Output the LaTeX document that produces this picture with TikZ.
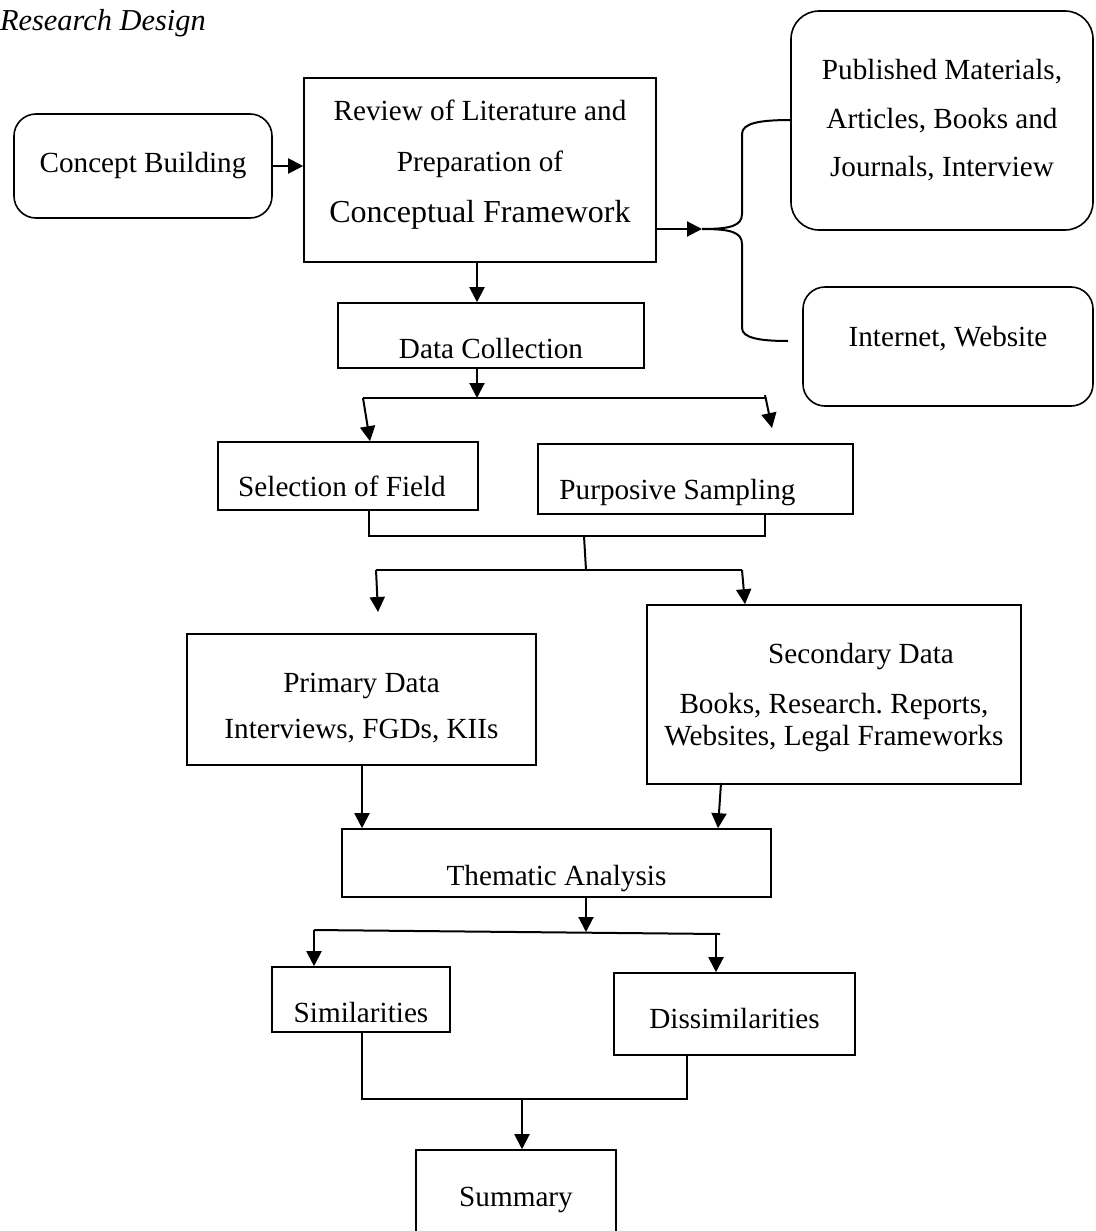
\documentclass[tikz,border=0pt]{standalone}
\usepackage{fontspec}
\setmainfont{Liberation Serif}
\usetikzlibrary{arrows.meta, positioning}
\newcommand{\nudge}[3]{\raisebox{#2}[\height][\depth]{\hspace*{#1}#3\hspace*{-#1}}}

\begin{document}
\begin{tikzpicture}[
  x=0.5pt, y=-0.5pt,
  box/.style={draw, line width=0.8pt, inner sep=0pt, align=center, font=\fontsize{14.6}{17}\selectfont},
  rbox/.style={box, rounded corners=#1},
  link/.style={line width=1pt},
  arr/.style={link, -{Triangle[length=7.5pt, width=7.5pt]}}
]
\useasboundingbox (0,0) rectangle (1096,1231);
\clip (0,0) rectangle (1096,1231);

\node[anchor=base west, font=\fontsize{15.2}{18}\selectfont\itshape] (title) at (-7,31) {Research Design};

% sources
\node[rbox=11pt, minimum width=129pt, minimum height=52pt] (concept) at (143,166) {Concept Building};
\node[box, minimum width=176pt, minimum height=92pt, font=\fontsize{14.6}{25.5}\selectfont, text depth=8.5pt] (review) at (480,170)
  {Review of Literature and\\Preparation of\\{\fontsize{16}{25.5}\selectfont Conceptual Framework}};
\node[rbox=14pt, minimum width=151pt, minimum height=109.5pt, font=\fontsize{14.6}{24.25}\selectfont] (published) at (942,120.5)
  {Published Materials,\\Articles, Books and\\Journals, Interview};
\node[rbox=11pt, minimum width=145pt, minimum height=59.5pt] (internet) at (948,346.5) {\nudge{0pt}{4pt}{Internet, Website}};

% collection
\node[box, minimum width=153pt, minimum height=32.5pt] (datacoll) at (491,335.5) {\nudge{0pt}{-6.5pt}{Data Collection}};
\node[box, minimum width=130pt, minimum height=34pt] (field) at (348,476) {\nudge{-3pt}{-5pt}{Selection of Field}};
\node[box, minimum width=157.5pt, minimum height=35pt] (sampling) at (695.5,479) {\nudge{-9pt}{-7pt}{Purposive Sampling}};

% data
\node[box, minimum width=174.5pt, minimum height=65.5pt, font=\fontsize{14.6}{23}\selectfont] (primary) at (361.5,699.5)
  {\rule{0pt}{18pt}Primary Data\\Interviews, FGDs, KIIs};
\node[box, minimum width=187pt, minimum height=89.5pt, font=\fontsize{14.6}{16}\selectfont] (secondary) at (834,694.5)
  {\rule{0pt}{13pt}\nudge{13.5pt}{0pt}{Secondary Data}\\[9pt]Books, Research.\ Reports,\\Websites, Legal Frameworks};

% analysis
\node[box, minimum width=214.5pt, minimum height=34pt] (thematic) at (556.5,863) {\nudge{0pt}{-8pt}{Thematic Analysis}};
\node[box, minimum width=89pt, minimum height=32.5pt] (similar) at (361,999.5) {\nudge{0pt}{-6.5pt}{Similarities}};
\node[box, minimum width=120.5pt, minimum height=41pt] (dissimilar) at (734.5,1014) {\nudge{0pt}{-2pt}{Dissimilarities}};
\node[box, minimum width=100pt, minimum height=46pt] (summary) at (516,1196) {\nudge{0pt}{-2pt}{Summary}};

% junctions
\coordinate (fork) at (702,229);
\coordinate (dcx) at (477,398);
\coordinate (dcl) at (363,398);
\coordinate (dcr) at (765,398);
\coordinate (flx) at (370,0);
\coordinate (ps1) at (765,395);
\coordinate (ps2) at (772,428);
\coordinate (mgl) at (369,536);
\coordinate (mgr) at (765,536);
\coordinate (mgx) at (584,536);
\coordinate (spx) at (586,570);
\coordinate (spl) at (376,570);
\coordinate (spr) at (742,570);
\coordinate (pdx) at (378,612);
\coordinate (sdx) at (745,0);
\coordinate (ptx) at (362,0);
\coordinate (stx) at (721,783);
\coordinate (sty) at (718,0);
\coordinate (thx) at (586,932);
\coordinate (thl) at (314,930);
\coordinate (thr) at (720,934);
\coordinate (dsx) at (716,934);
\coordinate (sml) at (362,1099);
\coordinate (smr) at (687,1099);
\coordinate (smx) at (522,1099);

% connectors
\draw[arr] (concept.east) -- (concept.east -| review.west);
\draw[arr] (review.east |- fork) -- (fork);
\draw[link] (fork) .. controls (730,229) and (742,226) .. (742,214) -- (742,134) .. controls (742,123) and (760,120) .. (791,120);
\draw[link] (fork) .. controls (730,229) and (742,232) .. (742,244) -- (742,328) .. controls (742,338) and (760,341) .. (788,341);
\draw[arr] (review.south -| dcx) -- (datacoll.north -| dcx);
\draw[arr] (datacoll.south -| dcx) -- (dcx);
\draw[link] (dcl) -- (dcr);
\draw[arr] (dcl) -- (field.north -| flx);
\draw[arr] (ps1) -- (ps2);
\draw[link] (field.south -| mgl) -- (mgl) -- (mgr) -- (sampling.south -| mgr);
\draw[link] (mgx) -- (spx);
\draw[link] (spl) -- (spr);
\draw[arr] (spl) -- (pdx);
\draw[arr] (spr) -- (secondary.north -| sdx);
\draw[arr] (primary.south -| ptx) -- (thematic.north -| ptx);
\draw[arr] (stx) -- (thematic.north -| sty);
\draw[arr] (thematic.south -| thx) -- (thx);
\draw[link] (thl) -- (thr);
\draw[arr] (thl) -- (similar.north -| thl);
\draw[arr] (dsx) -- (dissimilar.north -| dsx);
\draw[link] (similar.south -| sml) -- (sml) -- (smr) -- (dissimilar.south -| smr);
\draw[arr] (smx) -- (summary.north -| smx);
\end{tikzpicture}
\end{document}
